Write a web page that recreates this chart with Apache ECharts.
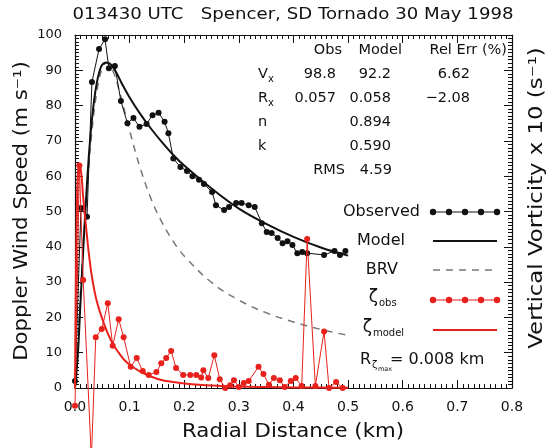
<!DOCTYPE html>
<html><head><meta charset="utf-8">
<script src="https://cdn.jsdelivr.net/npm/echarts@6/dist/echarts.min.js"></script>
<style>html,body{margin:0;padding:0;background:#fff}#c{width:552px;height:448px}</style>
</head><body><div id="c"></div>
<script>
// ---- data ----
var xTicks = [0.0, 0.1, 0.2, 0.3, 0.4, 0.5, 0.6, 0.7, 0.8];
var obsR = [0.0, 0.011, 0.022, 0.031, 0.044, 0.055, 0.062, 0.073, 0.084, 0.096, 0.107, 0.118, 0.131, 0.142, 0.153, 0.164, 0.171, 0.180, 0.193, 0.205, 0.215, 0.227, 0.236, 0.251, 0.258, 0.273, 0.282, 0.295, 0.305, 0.318, 0.329, 0.342, 0.351, 0.360, 0.371, 0.380, 0.389, 0.398, 0.407, 0.416, 0.425, 0.456, 0.475, 0.485, 0.495];
var obsV = [2, 51, 48.5, 86.7, 96, 98.8, 90.6, 91.2, 81.3, 75, 76.5, 74, 74.8, 77.3, 78, 75.4, 72.2, 65, 62.6, 61.5, 60, 59, 57.8, 55.5, 51.8, 50.4, 51.3, 52.4, 52.4, 51.8, 51.3, 46.7, 44.2, 43.9, 42.5, 41, 41.6, 40.5, 38.2, 38.5, 38.2, 37.7, 38.8, 37.7, 38.8];
var modR = [0.0, 0.005, 0.01, 0.015, 0.02, 0.025, 0.03, 0.035, 0.04, 0.045, 0.05, 0.058, 0.065, 0.075, 0.085, 0.1, 0.12, 0.14, 0.16, 0.18, 0.2, 0.25, 0.3, 0.35, 0.4, 0.45, 0.5];
var modV = [0, 9, 24, 39, 53, 65, 74.5, 81.5, 86.5, 89.8, 91.6, 92.2, 91.7, 89.5, 86.5, 82.3, 77.5, 73.3, 69.5, 66, 63, 56.5, 50.8, 46.5, 42.8, 39.8, 37.5];
var brvR = [0.0, 0.01, 0.02, 0.03, 0.04, 0.05, 0.058, 0.07, 0.08, 0.09, 0.1, 0.12, 0.14, 0.16, 0.18, 0.2, 0.25, 0.3, 0.35, 0.4, 0.45, 0.5];
var brvV = [0, 27.4, 51.9, 71.1, 84.0, 90.7, 92.1, 89.6, 84.8, 79.0, 72.9, 62.0, 53.3, 46.7, 41.5, 37.4, 29.9, 24.9, 21.3, 18.7, 16.6, 14.9];
var zetaObsR = [0.0, 0.008, 0.015, 0.03, 0.038, 0.049, 0.060, 0.069, 0.080, 0.089, 0.102, 0.113, 0.124, 0.135, 0.149, 0.158, 0.167, 0.176, 0.185, 0.198, 0.211, 0.222, 0.231, 0.235, 0.244, 0.255, 0.265, 0.275, 0.284, 0.291, 0.300, 0.309, 0.318, 0.336, 0.345, 0.355, 0.364, 0.375, 0.384, 0.395, 0.404, 0.415, 0.425, 0.440, 0.456, 0.465, 0.478, 0.490];
var zetaObs = [-5, 63, 30.6, -20, 14.4, 16.7, 24, 12, 19.5, 14.4, 6, 8.5, 4.8, 3.7, 4.5, 7, 8.5, 10.5, 5.7, 3.7, 3.7, 3.7, 3, 5, 2.8, 9.3, 2.5, 0, 0.8, 2.2, 0.3, 1.4, 2, 6, 4, 0.9, 2.8, 2.2, 0.3, 2, 2.8, 0.6, 42.2, 0.6, 16, 0, 1.7, 0];
var zetaModR = [0.0, 0.002, 0.004, 0.006, 0.008, 0.010, 0.012, 0.015, 0.02, 0.025, 0.03, 0.035, 0.04, 0.05, 0.06, 0.07, 0.08, 0.09, 0.1, 0.12, 0.14, 0.16, 0.18, 0.2, 0.25, 0.3, 0.35, 0.4, 0.5];
var zetaMod = [0, 35, 55, 62, 63.5, 62.5, 60, 54, 46, 38.5, 32.5, 28, 24.5, 19.5, 15.5, 12.3, 10, 8, 6.6, 4.6, 3.2, 2.2, 1.7, 1.3, 0.7, 0.4, 0.25, 0.15, 0.1];

var tableHead = ['Obs', 'Model', 'Rel Err (%)'];
var rowVx = ['98.8', '92.2', '6.62'];
var rowRx = ['0.057', '0.058', '\u22122.08'];
var rowN = ['', '0.894', ''];
var rowK = ['', '0.590', ''];
var rmsText = '4.59';
var rZetaText = '= 0.008 km';

function pairs(xs, ys) { return xs.map(function (x, i) { return [x, ys[i]]; }); }

var FONT = 'DejaVu Sans';
var RED = '#e8211c';
var chart = echarts.init(document.getElementById('c'), null, { renderer: 'canvas' });

function txt(x, y, s, size, align, color, extra) {
  var o = { type: 'text', x: x, y: y, silent: true,
    style: { text: s, fontFamily: FONT, fontSize: size, fill: color || '#111', textAlign: align || 'left', textVerticalAlign: 'middle' } };
  if (extra) for (var k in extra) o[k] = extra[k];
  return o;
}

var g = [];
// title & axis names
g.push(txt(293, 15, '013430 UTC   Spencer, SD Tornado 30 May 1998', 16.5, 'center', '#111', { scaleX: 1.1 }));
g.push(txt(293, 432, 'Radial Distance (km)', 19, 'center', '#111', { scaleX: 1.12 }));
g.push(txt(22, 211, 'Doppler Wind Speed (m s\u207b\u00b9)', 19, 'center', '#111', { rotation: Math.PI / 2, scaleX: 1.12 }));
g.push(txt(537, 198, 'Vertical Vorticity x 10 (s\u207b\u00b9)', 19, 'center', '#111', { rotation: Math.PI / 2, scaleX: 1.2 }));

// table
var TF = 14.5;
g.push(txt(342, 50, tableHead[0], TF, 'right'));
g.push(txt(402, 50, tableHead[1], TF, 'right'));
g.push(txt(507, 50, tableHead[2], TF, 'right'));
var rows = [[74, 'V', 'x', rowVx], [98, 'R', 'x', rowRx], [122, 'n', '', rowN], [146, 'k', '', rowK]];
var valRight = [336, 391, 470];
rows.forEach(function (r) {
  g.push(txt(258, r[0], r[1], TF, 'left'));
  if (r[2]) g.push(txt(268, r[0] + 5, r[2], 10, 'left'));
  r[3].forEach(function (v, i) { if (v) g.push(txt(valRight[i], r[0], v, TF, 'right')); });
});
g.push(txt(345, 170, 'RMS', TF, 'right'));
g.push(txt(392, 170, rmsText, TF, 'right'));

// legend
var lx1 = 433, lx2 = 497;
function dots(y, color) {
  for (var i = 0; i < 5; i++) g.push({ type: 'circle', silent: true, shape: { cx: lx1 + i * (lx2 - lx1) / 4, cy: y, r: 3.2 }, style: { fill: color } });
}
g.push(txt(420, 212, 'Observed', 16, 'right'));
g.push({ type: 'line', silent: true, shape: { x1: lx1, y1: 212, x2: lx2, y2: 212 }, style: { stroke: '#111', lineWidth: 1 } });
dots(212, '#111');
g.push(txt(405, 241, 'Model', 16, 'right'));
g.push({ type: 'line', silent: true, shape: { x1: lx1, y1: 241, x2: lx2, y2: 241 }, style: { stroke: '#111', lineWidth: 2 } });
g.push(txt(398, 270, 'BRV', 16, 'right'));
g.push({ type: 'line', silent: true, shape: { x1: lx1, y1: 270, x2: lx2, y2: 270 }, style: { stroke: '#777', lineWidth: 1.5, lineDash: [7, 6] } });
g.push(txt(378, 298, '\u03b6', 17, 'right'));
g.push(txt(379, 303, 'obs', 10, 'left'));
g.push({ type: 'line', silent: true, shape: { x1: lx1, y1: 300, x2: lx2, y2: 300 }, style: { stroke: RED, lineWidth: 1 } });
dots(300, RED);
g.push(txt(372, 328, '\u03b6', 17, 'right'));
g.push(txt(373, 333, 'model', 10, 'left'));
g.push({ type: 'line', silent: true, shape: { x1: lx1, y1: 330, x2: lx2, y2: 330 }, style: { stroke: RED, lineWidth: 2 } });
g.push(txt(360, 360, 'R', 16, 'left'));
g.push(txt(372, 365, '\u03b6', 10, 'left'));
g.push(txt(378, 369, 'max', 6.5, 'left'));
g.push(txt(390, 360, rZetaText, 16, 'left'));

var axisCommon = {
  type: 'value', min: 0, max: 0.8, interval: 0.1,
  axisLine: { show: true, onZero: false, lineStyle: { color: '#111', width: 1.2 } },
  axisTick: { show: true, inside: true, length: 8, lineStyle: { color: '#111' } },
  minorTick: { show: true, splitNumber: 10, length: 4, lineStyle: { color: '#111' } },
  splitLine: { show: false }, minorSplitLine: { show: false }
};
var yCommon = {
  type: 'value', min: 0, max: 100, interval: 10,
  axisLine: { show: true, onZero: false, lineStyle: { color: '#111', width: 1.2 } },
  axisTick: { show: true, inside: true, length: 8, lineStyle: { color: '#111' } },
  minorTick: { show: true, splitNumber: 10, length: 4, lineStyle: { color: '#111' } },
  splitLine: { show: false }, minorSplitLine: { show: false }
};

var option = {
  animation: false,
  backgroundColor: '#fff',
  grid: { left: 75, right: 40, top: 35, bottom: 60, containLabel: false },
  xAxis: [
    Object.assign({}, axisCommon, {
      position: 'bottom',
      axisLabel: { show: true, margin: 12, fontFamily: FONT, fontSize: 14, color: '#111', formatter: function (v) { return v.toFixed(1); } }
    }),
    Object.assign({}, axisCommon, { position: 'top', axisLabel: { show: false } })
  ],
  yAxis: [
    Object.assign({}, yCommon, {
      position: 'left',
      axisLabel: { show: true, margin: 13, fontFamily: FONT, fontSize: 13, color: '#111' }
    }),
    Object.assign({}, yCommon, { position: 'right', axisLabel: { show: false } })
  ],
  graphic: g,
  series: [
    { name: 'BRV', type: 'line', data: pairs(brvR, brvV), smooth: 0.4, showSymbol: false, symbol: 'none',
      lineStyle: { color: '#777', width: 1.5, type: [7, 6] }, z: 2 },
    { name: 'Model', type: 'line', data: pairs(modR, modV), smooth: 0.4, symbol: 'none',
      lineStyle: { color: '#111', width: 2 }, z: 3 },
    { name: 'Observed', type: 'line', data: pairs(obsR, obsV), symbol: 'circle', symbolSize: 6,
      itemStyle: { color: '#111' }, lineStyle: { color: '#111', width: 1 }, z: 4 },
    { name: 'zmodel', type: 'line', yAxisIndex: 1, data: pairs(zetaModR, zetaMod), smooth: 0.4, symbol: 'none',
      lineStyle: { color: RED, width: 2 }, z: 5, clip: false },
    { name: 'zobs', type: 'line', yAxisIndex: 1, data: pairs(zetaObsR, zetaObs), symbol: 'circle', symbolSize: 6,
      itemStyle: { color: RED }, lineStyle: { color: RED, width: 1 }, z: 6, clip: false }
  ]
};
chart.setOption(option);
</script>
</body></html>
